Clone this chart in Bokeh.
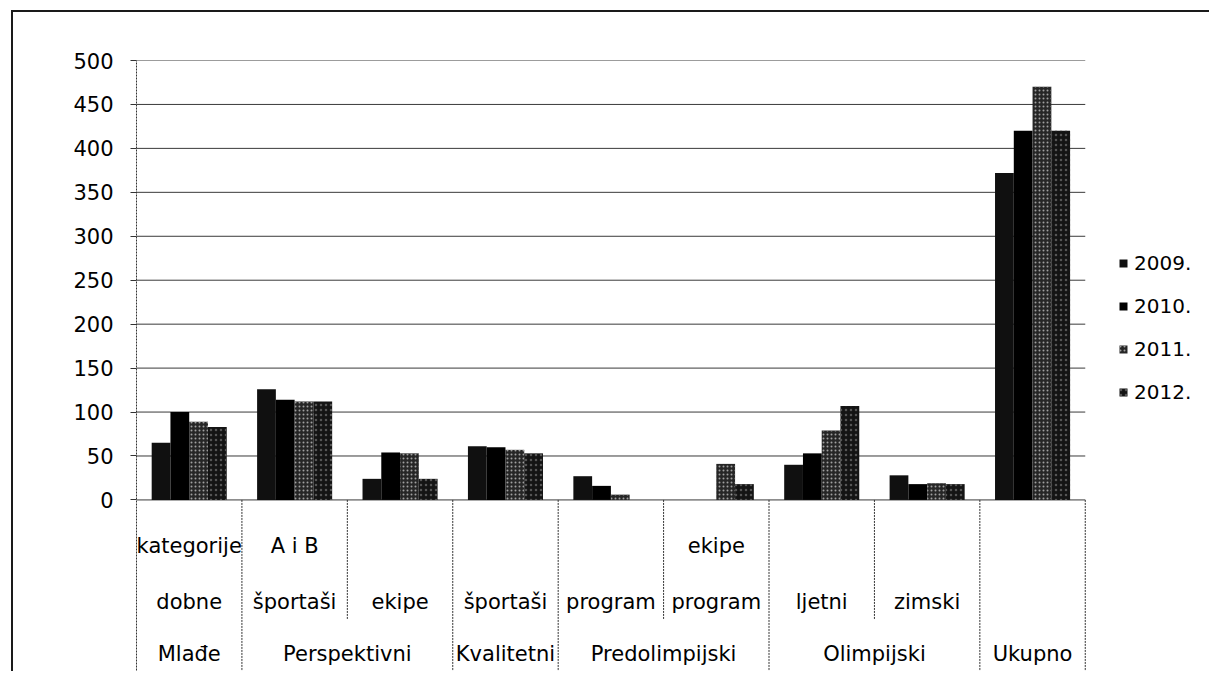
import numpy as np
from bokeh.plotting import figure
from bokeh.models import ColumnDataSource, Range1d, FixedTicker, Legend, LegendItem
from bokeh.transform import dodge
from bokeh.core.properties import value
from bokeh.embed import file_html
from bokeh.resources import INLINE

# ---- data ----
groups = ["Mlađe", "Perspektivni", "Perspektivni", "Kvalitetni", "Predolimpijski",
          "Predolimpijski", "Olimpijski", "Olimpijski", "Ukupno"]
sub_labels = ["dobne", "športaši", "ekipe", "športaši", "program", "program",
              "ljetni", "zimski", ""]
top_labels = ["kategorije", "A i B", "", "", "", "ekipe", "", "", ""]
years = ["2009.", "2010.", "2011.", "2012."]
v2009 = [65, 126, 24, 61, 27, 0, 40, 28, 372]
v2010 = [100, 114, 54, 60, 16, 0, 53, 18, 420]
v2011 = [89, 112, 53, 57, 6, 41, 79, 19, 470]
v2012 = [83, 112, 24, 53, 0, 18, 107, 18, 420]
y_ticks = [0, 50, 100, 150, 200, 250, 300, 350, 400, 450, 500]

FONT = "DejaVu Sans"
n = len(groups)
xc = np.arange(n) + 0.5

src = ColumnDataSource(dict(x=xc, y0=v2009, y1=v2010, y2=v2011, y3=v2012))

W, H = 1198, 661
ML, MT = 123, 48
CAT_PX = 947.0 / n              # pixel width of one category
frame_w = W - 2 - ML            # host is border-box with a 2px border
frame_h = H - 2 - MT
PX_PER_UNIT = 438.0 / 500.0
Y_MIN = -(frame_h - 438.0) / PX_PER_UNIT

p = figure(width=W, height=H, output_backend="svg", toolbar_location=None,
           x_range=Range1d(0, frame_w / CAT_PX), y_range=Range1d(Y_MIN, 500),
           min_border_left=ML, min_border_right=0, min_border_top=MT,
           min_border_bottom=0, margin=(10, 0, 0, 11))
p.styles = {"border-top": "2px solid #1a1a1a", "border-left": "2px solid #1a1a1a"}
p.outline_line_color = None
p.background_fill_color = "white"
p.border_fill_color = "white"

# axes
p.xaxis.visible = False
p.xgrid.visible = False
p.ygrid.visible = False
p.yaxis.ticker = FixedTicker(ticks=y_ticks)
p.yaxis.axis_line_color = "#333333"
p.yaxis.axis_line_dash = "2 1"
p.yaxis.major_tick_out = 6
p.yaxis.major_tick_in = 0
p.yaxis.major_tick_line_color = "#333333"
p.yaxis.minor_tick_line_color = None
p.yaxis.major_label_text_font = FONT
p.yaxis.major_label_text_font_size = "21px"
p.yaxis.major_label_text_color = "black"
p.yaxis.major_label_standoff = 17

# horizontal grid lines across the category area only
p.segment(x0=[0] * len(y_ticks), y0=y_ticks, x1=[n] * len(y_ticks), y1=y_ticks,
          line_color="#3a3a3a", line_width=1)

# bars
bw = 0.178
offsets = [-0.267, -0.089, 0.089, 0.267]
styles = [
    dict(fill_color="#101010"),
    dict(fill_color="#000000"),
    dict(fill_color="#262626", hatch_pattern="dot", hatch_color="#a0a0a0",
         hatch_scale=4, hatch_weight=1.2),
    dict(fill_color="#141414", hatch_pattern="dot", hatch_color="#555555",
         hatch_scale=5, hatch_weight=0.8),
]
renderers = []
for i, col in enumerate(["y0", "y1", "y2", "y3"]):
    r = p.vbar(x=dodge("x", offsets[i], range=p.x_range), top=col, bottom=0,
               width=bw, source=src, line_color=None, **styles[i])
    renderers.append(r)

# separators in category axis area
full_bottom = Y_MIN
part_bottom = -136
bx_full, bx_part = [n], []
for i in range(1, n):
    if groups[i] != groups[i - 1]:
        bx_full.append(i)
    else:
        bx_part.append(i)
p.segment(x0=bx_full, y0=[0] * len(bx_full), x1=bx_full, y1=[full_bottom] * len(bx_full),
          line_color="#333333", line_dash="2 1", line_width=1)
p.segment(x0=bx_part, y0=[0] * len(bx_part), x1=bx_part, y1=[part_bottom] * len(bx_part),
          line_color="#333333", line_dash="2 1", line_width=1)

# category labels
p.text(x=xc, y=[-52] * n, text=top_labels, text_font=value(FONT), text_font_size="21px",
       text_align="center", text_baseline="alphabetic", text_color="black")
p.text(x=xc, y=[-116] * n, text=sub_labels, text_font=value(FONT), text_font_size="21px",
       text_align="center", text_baseline="alphabetic", text_color="black")

g_names, g_centers = [], []
start = 0
for i in range(1, n + 1):
    if i == n or groups[i] != groups[start]:
        g_names.append(groups[start])
        g_centers.append((start + i) / 2)
        start = i
p.text(x=g_centers, y=[-175] * len(g_names), text=g_names, text_font=value(FONT),
       text_font_size="21px", text_align="center", text_baseline="alphabetic",
       text_color="black")

# legend (to the right of the bars, inside the extended frame)
legend = Legend(items=[LegendItem(label=years[i], renderers=[renderers[i]]) for i in range(4)],
                location=(982, 269))
legend.label_text_font = FONT
legend.label_text_font_size = "20px"
legend.label_text_color = "black"
legend.glyph_width = 10
legend.glyph_height = 10
legend.label_standoff = 6
legend.label_height = 24
legend.spacing = 19
legend.padding = 0
legend.margin = 0
legend.border_line_color = None
legend.background_fill_alpha = 0
p.add_layout(legend)

open("out.html", "w").write(file_html(p, INLINE))
